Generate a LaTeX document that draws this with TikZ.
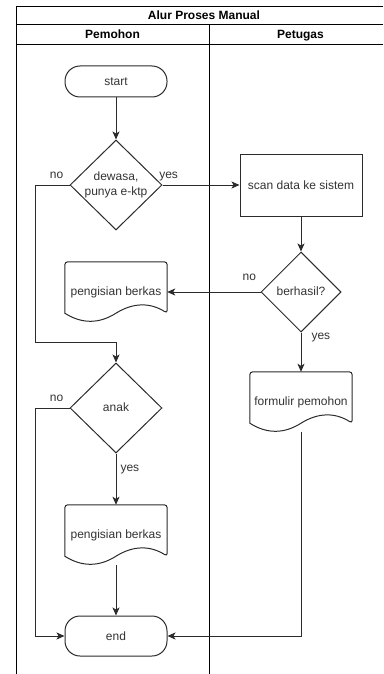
\documentclass[tikz,border=0pt]{standalone}
\usepackage{fontspec}
\setmainfont{Liberation Sans}
\usetikzlibrary{arrows.meta,shapes.geometric,calc}

% outline of a document shape drawn round a (plain) node
\newcommand{\docoutline}[1]{%
  \draw[shp] ([yshift=9pt]#1.south west) [rounded corners=3pt] -- (#1.north west)
    -- (#1.north east) -- ([yshift=9pt]#1.south east) [sharp corners]
    .. controls ([xshift=-17pt,yshift=19.8pt]#1.south east)
       and ([xshift=-34pt,yshift=19.8pt]#1.south east) .. ([yshift=9pt]#1.south)
    .. controls ([xshift=-17pt,yshift=-1.8pt]#1.south)
       and ([xshift=17pt,yshift=-1.8pt]#1.south west) .. ([yshift=9pt]#1.south west)
    -- cycle;}

\begin{document}
\begin{tikzpicture}[
  x=1pt, y=1pt,
  font=\fontsize{12}{14}\selectfont,
  shp/.style={draw=flowline, line width=1pt},
  term/.style={shp, rounded corners=15pt, minimum width=102pt, text=txtgray},
  proc/.style={shp, minimum width=122pt, minimum height=62pt, text=txtgray},
  dec/.style={shp, diamond, inner sep=0pt},
  doc/.style={minimum width=102pt, minimum height=60pt, inner sep=0pt, text=txtgray},
  lbl/.style={text=txtgray, inner sep=1pt, text height=8.6pt, text depth=2.5pt},
  multi/.style={text=txtgray, inner sep=1pt, align=center, font=\fontsize{12}{15}\selectfont},
  head/.style={font=\fontsize{12}{14}\selectfont\bfseries,
               text height=8.6pt, text depth=2.5pt},
  frame/.style={line width=1pt},
  conn/.style={draw=flowline, line width=1pt, -{Stealth[length=8pt, width=7pt, inset=2pt]}},
  flow/.style={draw=flowline, line width=1pt}
]
  \definecolor{txtgray}{HTML}{333333}
  \definecolor{flowline}{HTML}{2B2B2B}

  \useasboundingbox (0,0) rectangle (383,-674);

  % ================= POOL AND LANES =================
  \draw[frame] (16,-674) -- (16,-7) -- (383,-7);
  \draw[frame] (16,-25) -- (383,-25);
  \draw[frame] (16,-45) -- (383,-45);
  \draw[frame] (209,-25) -- (209,-674);

  \node[head] (title) at (204,-16) {Alur Proses Manual};
  \node[head] (lane1) at (112.5,-35) {Pemohon};
  \node[head] (lane2) at (300.5,-35) {Petugas};

  % ================= PEMOHON =================
  \node[term, minimum height=31pt] (start) at (116,-81.5) {start};
  \node[dec, minimum width=92pt, minimum height=90pt,
        label={[multi]center:{dewasa,\\punya e-ktp}}] (adult) at (116,-185) {};
  \node[doc] (berkas1) at (116,-292) {pengisian berkas};
  \docoutline{berkas1}
  \node[dec, minimum width=92pt, minimum height=90pt,
        label={[lbl]center:anak}] (child) at (116,-408) {};
  \node[doc] (berkas2) at (116,-535) {pengisian berkas};
  \docoutline{berkas2}
  \node[term, minimum height=40pt] (finish) at (116,-636) {end};

  % ================= PETUGAS =================
  \node[proc] (scan) at (301,-185) {scan data ke sistem};
  \node[dec, minimum width=80pt, minimum height=80pt,
        label={[lbl]center:berhasil?}] (ok) at (301,-292) {};
  \node[doc] (form) at (301,-402) {formulir pemohon};
  \docoutline{form}

  % ================= CONNECTORS =================
  \draw[conn] (start.south) -- (adult.north);
  \draw[conn] (adult.east) -- (scan.west)
    node[lbl, pos=0.08, above=3pt] {yes};
  \draw[conn] (adult.west) -- ++(-34,0)
    node[lbl, pos=0.38, above=3pt] {no}
    -- ++(0,-157) -| (child.north);
  \draw[conn] (scan.south) -- (ok.north);
  \draw[conn] (ok.west) -- (berkas1.east)
    node[lbl, pos=0.12, above=8pt] {no};
  \draw[conn] (ok.south) -- (form.north)
    node[lbl, pos=0.1, right=9pt] {yes};
  \draw[conn] (form.south) |- (finish.east);
  \draw[conn] (child.west) -- ++(-34,0)
    node[lbl, pos=0.38, above=3pt] {no}
    |- (finish.west);
  \draw[conn] (child.south) -- (berkas2.north)
    node[lbl, pos=0.29, right=3pt] {yes};
  \draw[conn] (berkas2.south) -- (finish.north);
\end{tikzpicture}
\end{document}
